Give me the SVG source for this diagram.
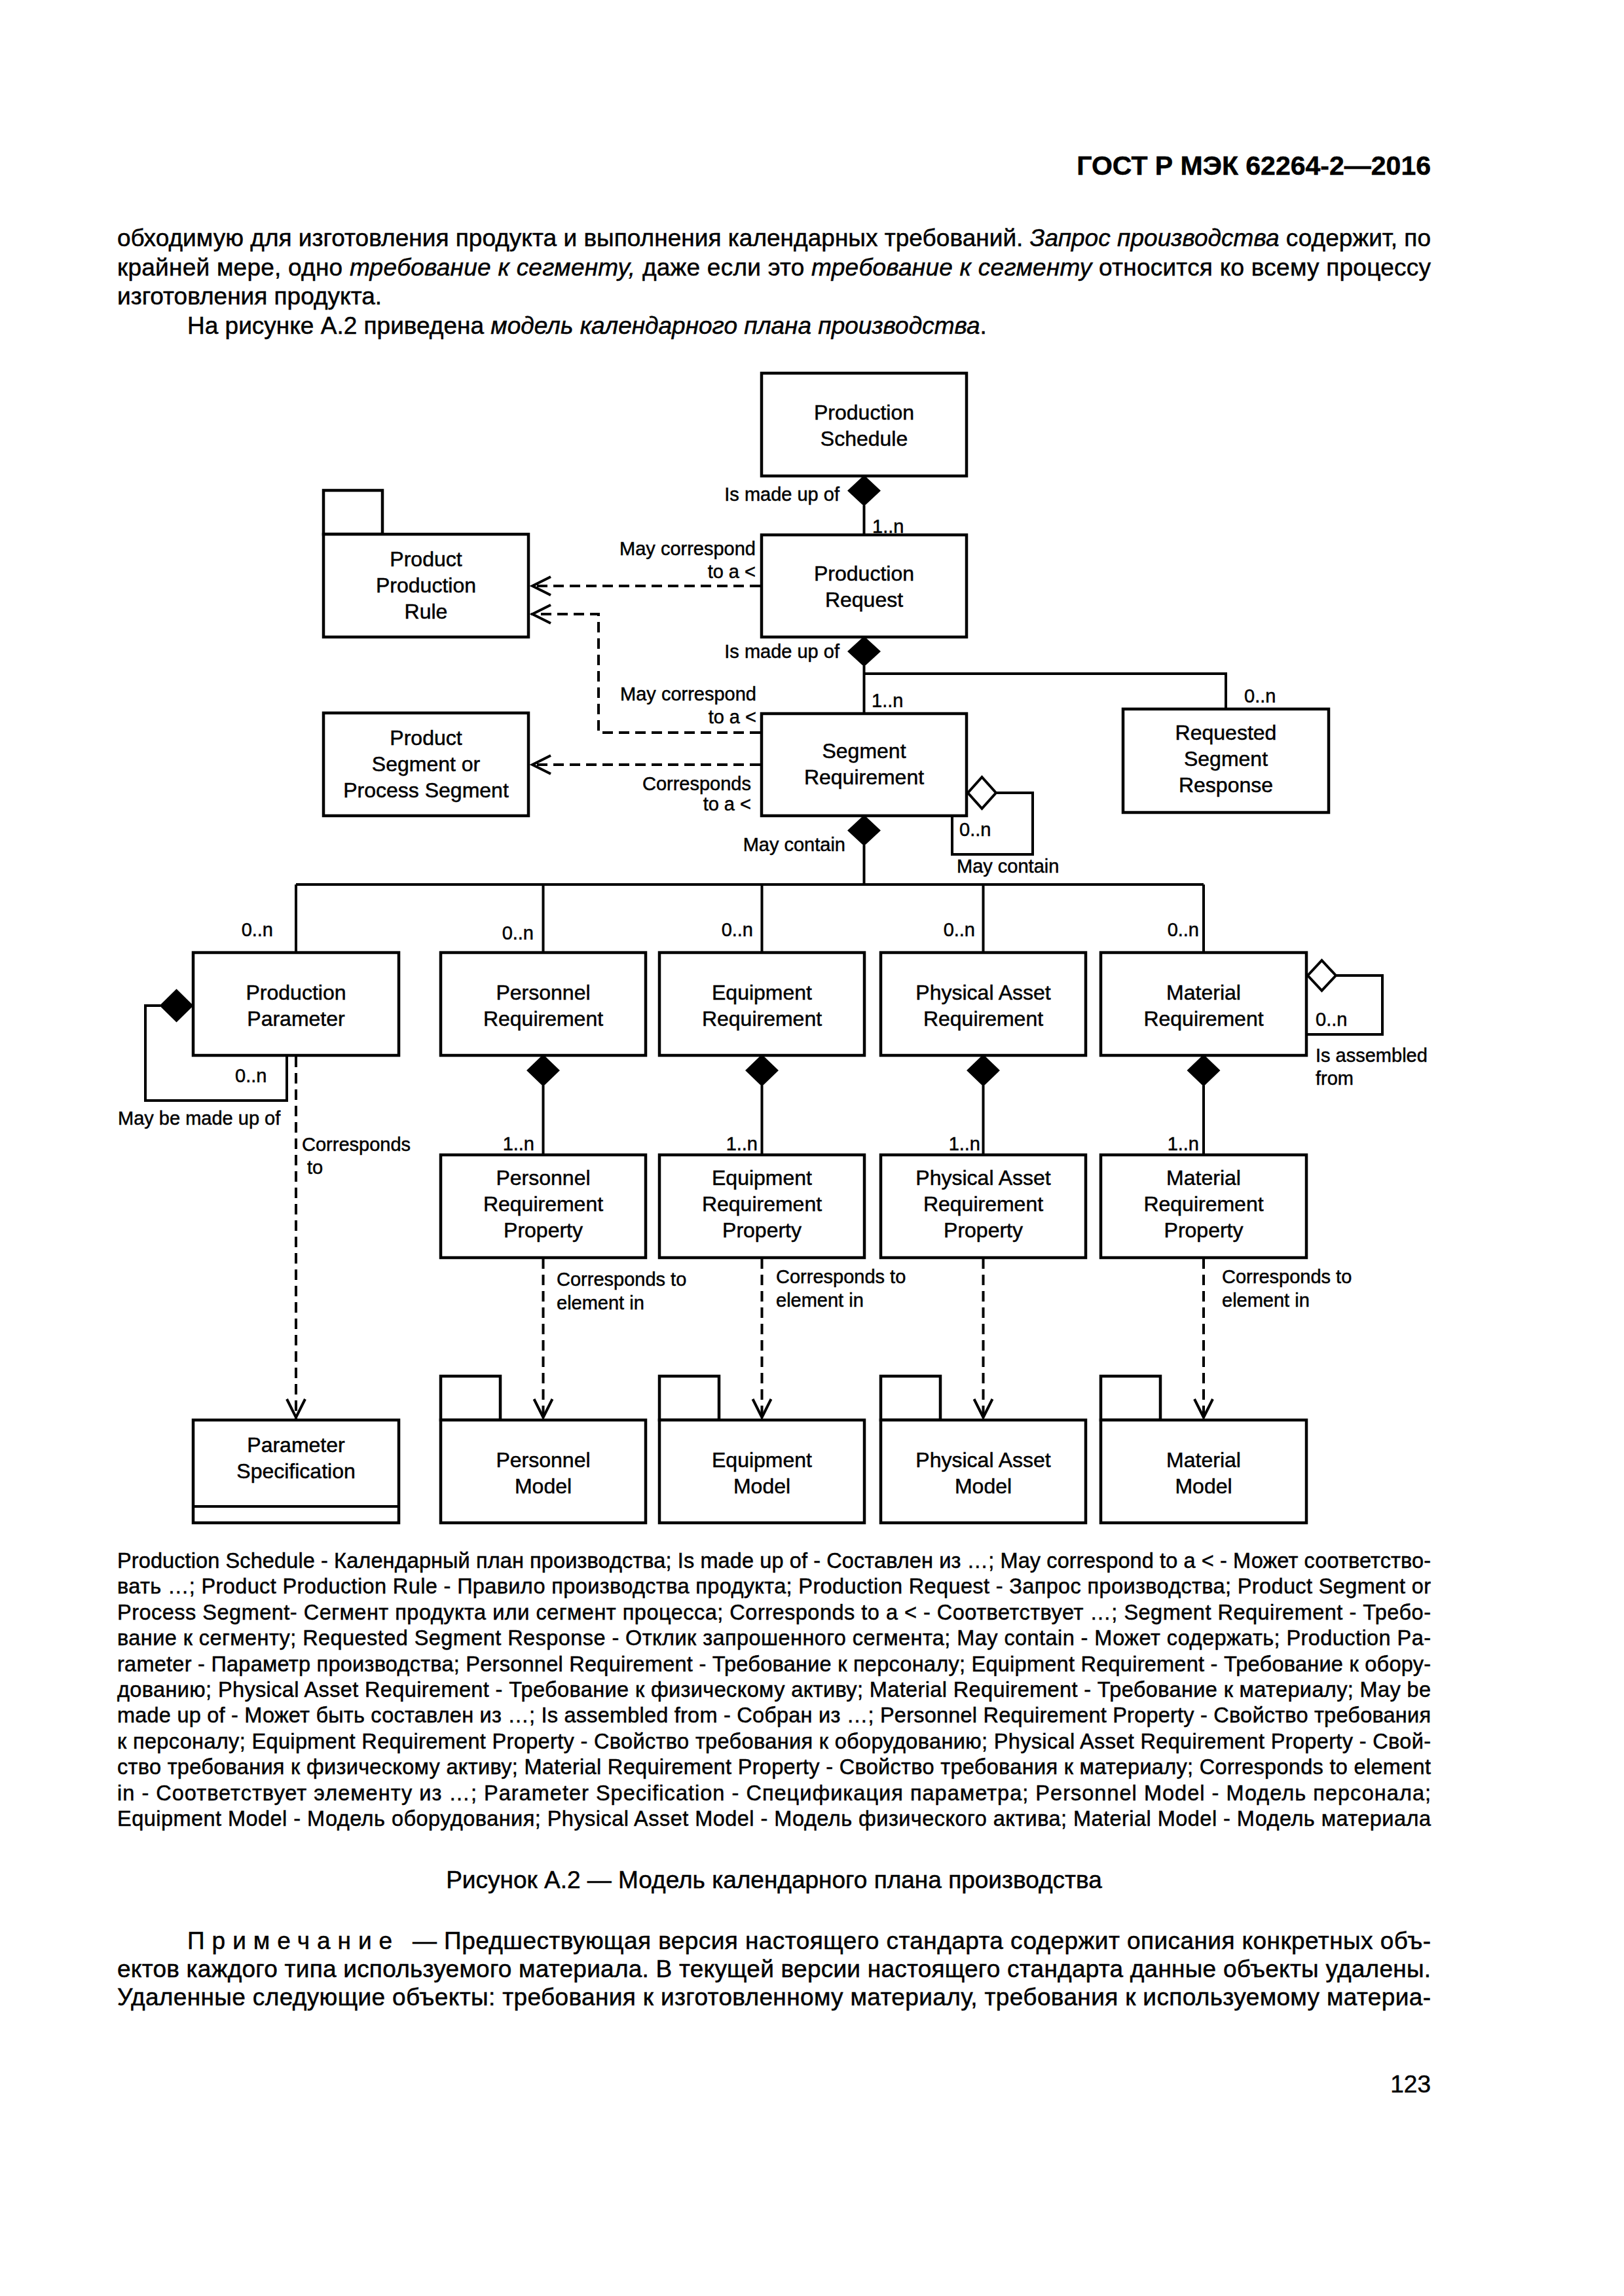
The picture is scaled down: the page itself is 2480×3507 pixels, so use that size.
<svg xmlns="http://www.w3.org/2000/svg" width="2480" height="3507" viewBox="0 0 2480 3507">
<style>
text{font-family:"Liberation Sans",Arial,sans-serif;fill:#000;stroke:#000;stroke-width:0.5}
.box{fill:#fff;stroke:#000;stroke-width:4.5}
.ln{fill:none;stroke:#000;stroke-width:4}
.dash{fill:none;stroke:#000;stroke-width:4;stroke-dasharray:16 9}
.fd{fill:#000;stroke:#000;stroke-width:2}
.od{fill:#fff;stroke:#000;stroke-width:4}
.nt{font-size:32px;text-anchor:middle}
.lb{font-size:29px}
.e{text-anchor:end}
.body{font-size:37px}
.leg{font-size:32.5px}
.it{font-style:italic}
</style>
<defs>
<marker id="arr" markerUnits="userSpaceOnUse" markerWidth="44" markerHeight="44" viewBox="0 0 44 44" refX="38" refY="22" orient="auto">
<path d="M8,8 L36,22 L8,36" fill="none" stroke="#000" stroke-width="4"/>
</marker>
</defs>
<rect width="2480" height="3507" fill="#fff"/>

<g id="page-text">
<text x="2185" y="267" font-size="41" font-weight="bold" text-anchor="end">ГОСТ Р МЭК 62264-2—2016</text>
<text class="body" x="179" y="376" textLength="2006" lengthAdjust="spacing">обходимую для изготовления продукта и выполнения календарных требований. <tspan class="it">Запрос производства</tspan> содержит, по</text>
<text class="body" x="179" y="421" textLength="2006" lengthAdjust="spacing">крайней мере, одно <tspan class="it">требование к сегменту,</tspan> даже если это <tspan class="it">требование к сегменту</tspan> относится ко всему процессу</text>
<text class="body" x="179" y="465">изготовления продукта.</text>
<text class="body" x="286" y="510">На рисунке А.2 приведена <tspan class="it">модель календарного плана производства</tspan>.</text>
</g>

<g id="connectors">
<path class="ln" d="M1319.5,772 V817"/>
<path class="ln" d="M1319.5,1017 V1090"/>
<path class="ln" d="M1319.5,1029 H1872 V1083"/>
<path class="ln" d="M1521,1211 H1577 V1305 H1454 V1246"/>
<path class="ln" d="M1319.5,1291 V1351"/>
<path class="ln" d="M452,1351 H1838"/>
<path class="ln" d="M452,1351 V1455 M829.5,1351 V1455 M1163.5,1351 V1455 M1501.5,1351 V1455 M1838,1351 V1455"/>
<path class="ln" d="M829.5,1658 V1764 M1163.5,1658 V1764 M1501.5,1658 V1764 M1838,1658 V1764"/>
<path class="ln" d="M245,1536 H222 V1681 H438 V1612"/>
<path class="ln" d="M2040,1490 H2111 V1580 H1995"/>
<path class="dash" d="M1161,895 H811" marker-end="url(#arr)"/>
<path class="dash" d="M1161,1119 H914 V938 H811" marker-end="url(#arr)"/>
<path class="dash" d="M1161,1168 H811" marker-end="url(#arr)"/>
<path class="dash" d="M452,1614 V2167" marker-end="url(#arr)"/>
<path class="dash" d="M829.5,1922 V2167" marker-end="url(#arr)"/>
<path class="dash" d="M1163.5,1922 V2167" marker-end="url(#arr)"/>
<path class="dash" d="M1501.5,1922 V2167" marker-end="url(#arr)"/>
<path class="dash" d="M1838,1922 V2167" marker-end="url(#arr)"/>
<polygon class="fd" points="1319.5,727 1343.5,749.5 1319.5,772 1295.5,749.5"/>
<polygon class="fd" points="1319.5,973 1343.5,995 1319.5,1017 1295.5,995"/>
<polygon class="fd" points="1319.5,1246 1343.5,1268.5 1319.5,1291 1295.5,1268.5"/>
<polygon class="fd" points="829.5,1612 853.5,1635 829.5,1658 805.5,1635"/>
<polygon class="fd" points="1163.5,1612 1187.5,1635 1163.5,1658 1139.5,1635"/>
<polygon class="fd" points="1501.5,1612 1525.5,1635 1501.5,1658 1477.5,1635"/>
<polygon class="fd" points="1838,1612 1862,1635 1838,1658 1814,1635"/>
<polygon class="fd" points="294,1536 269.5,1560 245,1536 269.5,1512"/>
<polygon class="od" points="1478,1211 1499.5,1187 1521,1211 1499.5,1235"/>
<polygon class="od" points="1997,1490 2018.5,1467 2040,1490 2018.5,1513"/>
<g class="lb">
<text class="e" x="1282" y="765">Is made up of</text>
<text x="1332" y="814">1..n</text>
<text class="e" x="1154" y="848">May correspond</text>
<text class="e" x="1154" y="883">to a &lt;</text>
<text class="e" x="1282" y="1005">Is made up of</text>
<text x="1331" y="1080">1..n</text>
<text x="1900" y="1073">0..n</text>
<text class="e" x="1155" y="1070">May correspond</text>
<text class="e" x="1155" y="1105">to a &lt;</text>
<text class="e" x="1147" y="1207">Corresponds</text>
<text class="e" x="1147" y="1238">to a &lt;</text>
<text class="e" x="1291" y="1300">May contain</text>
<text x="1465" y="1277">0..n</text>
<text x="1461" y="1333">May contain</text>
<text class="e" x="417" y="1430">0..n</text>
<text class="e" x="815" y="1435">0..n</text>
<text class="e" x="1150" y="1430">0..n</text>
<text class="e" x="1489" y="1430">0..n</text>
<text class="e" x="1831" y="1430">0..n</text>
<text x="359" y="1653">0..n</text>
<text x="180" y="1718">May be made up of</text>
<text x="461" y="1758">Corresponds</text>
<text x="469" y="1793">to</text>
<text class="e" x="816" y="1757">1..n</text>
<text class="e" x="1157" y="1757">1..n</text>
<text class="e" x="1497" y="1757">1..n</text>
<text class="e" x="1831" y="1757">1..n</text>
<text x="2009" y="1567">0..n</text>
<text x="2009" y="1622">Is assembled</text>
<text x="2009" y="1657">from</text>
<text x="850" y="1964">Corresponds to</text>
<text x="850" y="2000">element in</text>
<text x="1185" y="1960">Corresponds to</text>
<text x="1185" y="1996">element in</text>
<text x="1866" y="1960">Corresponds to</text>
<text x="1866" y="1996">element in</text>
</g>
</g>

<g id="production-schedule">
<rect class="box" x="1163" y="570" width="313" height="157"/>
<text class="nt" x="1319.5" y="641">Production</text>
<text class="nt" x="1319.5" y="681">Schedule</text>
</g>
<g id="production-request">
<rect class="box" x="1163" y="817" width="313" height="156"/>
<text class="nt" x="1319.5" y="887">Production</text>
<text class="nt" x="1319.5" y="927">Request</text>
</g>
<g id="product-production-rule">
<rect class="box" x="494" y="749" width="90" height="67"/>
<rect class="box" x="494" y="816" width="313" height="157"/>
<text class="nt" x="650.5" y="865">Product</text>
<text class="nt" x="650.5" y="905">Production</text>
<text class="nt" x="650.5" y="945">Rule</text>
</g>
<g id="segment-requirement">
<rect class="box" x="1163" y="1090" width="313" height="156"/>
<text class="nt" x="1319.5" y="1158">Segment</text>
<text class="nt" x="1319.5" y="1198">Requirement</text>
</g>
<g id="product-segment">
<rect class="box" x="494" y="1089" width="313" height="157"/>
<text class="nt" x="650.5" y="1138">Product</text>
<text class="nt" x="650.5" y="1178">Segment or</text>
<text class="nt" x="650.5" y="1218">Process Segment</text>
</g>
<g id="requested-segment-response">
<rect class="box" x="1715" y="1083" width="314" height="158"/>
<text class="nt" x="1872" y="1130">Requested</text>
<text class="nt" x="1872" y="1170">Segment</text>
<text class="nt" x="1872" y="1210">Response</text>
</g>
<g id="production-parameter">
<rect class="box" x="295" y="1455" width="314" height="157"/>
<text class="nt" x="452" y="1527">Production</text>
<text class="nt" x="452" y="1567">Parameter</text>
</g>
<g id="personnel-requirement">
<rect class="box" x="673" y="1455" width="313" height="157"/>
<text class="nt" x="829.5" y="1527">Personnel</text>
<text class="nt" x="829.5" y="1567">Requirement</text>
</g>
<g id="equipment-requirement">
<rect class="box" x="1007" y="1455" width="313" height="157"/>
<text class="nt" x="1163.5" y="1527">Equipment</text>
<text class="nt" x="1163.5" y="1567">Requirement</text>
</g>
<g id="physical-asset-requirement">
<rect class="box" x="1345" y="1455" width="313" height="157"/>
<text class="nt" x="1501.5" y="1527">Physical Asset</text>
<text class="nt" x="1501.5" y="1567">Requirement</text>
</g>
<g id="material-requirement">
<rect class="box" x="1681" y="1455" width="314" height="157"/>
<text class="nt" x="1838" y="1527">Material</text>
<text class="nt" x="1838" y="1567">Requirement</text>
</g>
<g id="personnel-requirement-property">
<rect class="box" x="673" y="1764" width="313" height="157"/>
<text class="nt" x="829.5" y="1810">Personnel</text>
<text class="nt" x="829.5" y="1850">Requirement</text>
<text class="nt" x="829.5" y="1890">Property</text>
</g>
<g id="equipment-requirement-property">
<rect class="box" x="1007" y="1764" width="313" height="157"/>
<text class="nt" x="1163.5" y="1810">Equipment</text>
<text class="nt" x="1163.5" y="1850">Requirement</text>
<text class="nt" x="1163.5" y="1890">Property</text>
</g>
<g id="physical-asset-requirement-property">
<rect class="box" x="1345" y="1764" width="313" height="157"/>
<text class="nt" x="1501.5" y="1810">Physical Asset</text>
<text class="nt" x="1501.5" y="1850">Requirement</text>
<text class="nt" x="1501.5" y="1890">Property</text>
</g>
<g id="material-requirement-property">
<rect class="box" x="1681" y="1764" width="314" height="157"/>
<text class="nt" x="1838" y="1810">Material</text>
<text class="nt" x="1838" y="1850">Requirement</text>
<text class="nt" x="1838" y="1890">Property</text>
</g>
<g id="parameter-specification">
<rect class="box" x="295" y="2169" width="314" height="157"/>
<path class="ln" d="M295,2301 H609" stroke-width="4.5"/>
<text class="nt" x="452" y="2218">Parameter</text>
<text class="nt" x="452" y="2258">Specification</text>
</g>
<g id="personnel-model">
<rect class="box" x="673" y="2102" width="91" height="67"/>
<rect class="box" x="673" y="2169" width="313" height="157"/>
<text class="nt" x="829.5" y="2241">Personnel</text>
<text class="nt" x="829.5" y="2281">Model</text>
</g>
<g id="equipment-model">
<rect class="box" x="1007" y="2102" width="91" height="67"/>
<rect class="box" x="1007" y="2169" width="313" height="157"/>
<text class="nt" x="1163.5" y="2241">Equipment</text>
<text class="nt" x="1163.5" y="2281">Model</text>
</g>
<g id="physical-asset-model">
<rect class="box" x="1345" y="2102" width="91" height="67"/>
<rect class="box" x="1345" y="2169" width="313" height="157"/>
<text class="nt" x="1501.5" y="2241">Physical Asset</text>
<text class="nt" x="1501.5" y="2281">Model</text>
</g>
<g id="material-model">
<rect class="box" x="1681" y="2102" width="91" height="67"/>
<rect class="box" x="1681" y="2169" width="314" height="157"/>
<text class="nt" x="1838" y="2241">Material</text>
<text class="nt" x="1838" y="2281">Model</text>
</g>

<g id="legend" class="leg">
<text x="179" y="2395" textLength="2006" lengthAdjust="spacing">Production Schedule - Календарный план производства; Is made up of - Составлен из …; May correspond to a &lt; - Может соответство-</text>
<text x="179" y="2434" textLength="2006" lengthAdjust="spacing">вать …; Product Production Rule - Правило производства продукта; Production Request - Запрос производства; Product Segment or</text>
<text x="179" y="2474" textLength="2006" lengthAdjust="spacing">Process Segment- Сегмент продукта или сегмент процесса; Corresponds to a &lt; - Соответствует …; Segment Requirement - Требо-</text>
<text x="179" y="2513" textLength="2006" lengthAdjust="spacing">вание к сегменту; Requested Segment Response - Отклик запрошенного сегмента; May contain - Может содержать; Production Pa-</text>
<text x="179" y="2553" textLength="2006" lengthAdjust="spacing">rameter - Параметр производства; Personnel Requirement - Требование к персоналу; Equipment Requirement - Требование к обору-</text>
<text x="179" y="2592" textLength="2006" lengthAdjust="spacing">дованию; Physical Asset Requirement - Требование к физическому активу; Material Requirement - Требование к материалу; May be</text>
<text x="179" y="2631" textLength="2006" lengthAdjust="spacing">made up of - Может быть составлен из …; Is assembled from - Собран из …; Personnel Requirement Property - Свойство требования</text>
<text x="179" y="2671" textLength="2006" lengthAdjust="spacing">к персоналу; Equipment Requirement Property - Свойство требования к оборудованию; Physical Asset Requirement Property - Свой-</text>
<text x="179" y="2710" textLength="2006" lengthAdjust="spacing">ство требования к физическому активу; Material Requirement Property - Свойство требования к материалу; Corresponds to element</text>
<text x="179" y="2750" textLength="2006" lengthAdjust="spacing">in - Соответствует элементу из …; Parameter Specification - Спецификация параметра; Personnel Model - Модель персонала;</text>
<text x="179" y="2789" textLength="2006" lengthAdjust="spacing">Equipment Model - Модель оборудования; Physical Asset Model - Модель физического актива; Material Model - Модель материала</text>
</g>

<g id="caption-and-note" class="body">
<text x="1182" y="2884" text-anchor="middle">Рисунок А.2 — Модель календарного плана производства</text>
<text x="286" y="2977" letter-spacing="11">Примечание</text>
<text x="630" y="2977" textLength="1555" lengthAdjust="spacing">— Предшествующая версия настоящего стандарта содержит описания конкретных объ-</text>
<text x="179" y="3020" textLength="2006" lengthAdjust="spacing">ектов каждого типа используемого материала. В текущей версии настоящего стандарта данные объекты удалены.</text>
<text x="179" y="3063" textLength="2006" lengthAdjust="spacing">Удаленные следующие объекты: требования к изготовленному материалу, требования к используемому материа-</text>
<text x="2185" y="3196" text-anchor="end">123</text>
</g>
</svg>
